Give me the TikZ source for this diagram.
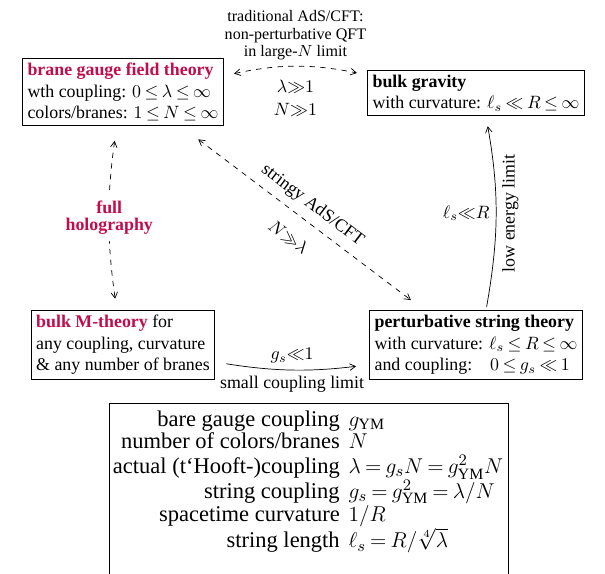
\documentclass[tikz,border=0pt]{standalone}
\usepackage{fontspec}
\setmainfont{Liberation Serif}
\usetikzlibrary{arrows}
\definecolor{holored}{rgb}{0.76,0.05,0.30}
\thickmuskip=3.5mu plus 2mu

\begin{document}
\begin{tikzpicture}[x=0.56pt, y=-0.56pt,
    theory/.style={rectangle, draw, align=left, inner sep=2.6pt, line width=0.6pt},
    dual/.style={<->, >=angle 60, dashed},
    limit/.style={->, >=angle 60},
    lbl/.style={align=center}
]
    \useasboundingbox (0,0) rectangle (605,573);

    % Nodes
    \node[theory] (gauge) at (123,92) {\textcolor{holored}{\textbf{brane gauge field theory}}\\ wth coupling: $0\le\lambda\le\infty$\\ colors/branes: $1\le N\le\infty$};
    \node[theory] (gravity) at (476,93) {\textbf{bulk gravity}\\ with curvature: $\ell_s\ll R\le\infty$};
    \node[theory] (mtheory) at (123,345) {\textcolor{holored}{\textbf{bulk M-theory}} for\\ any coupling, curvature\\ \& any number of branes};
    \node[theory] (string) at (476,345) {\textbf{perturbative string theory}\\ with curvature: $\ell_s\le R\le\infty$\\ and coupling:\quad $0\le g_s\ll1$};
    \node[theory, anchor=north, inner sep=2pt] (legend) at (309,403) {\fontsize{12.6}{12.5}\selectfont
        \begin{tabular}{@{}r@{\hspace{5pt}}l@{\hspace{1pt}}}
            \noalign{\vskip 2pt}
            bare gauge coupling & $g_{\mathrm{YM}}$\\
            number of colors/branes & $N$\\
            actual (t`Hooft-)coupling & $\lambda=g_sN=g_{\mathrm{YM}}^2N$\\
            string coupling & $g_s=g_{\mathrm{YM}}^2=\lambda/N$\\
            spacetime curvature & $1/R$\\
            string length & $\ell_s=R/\sqrt[4]{\lambda}$\\[24pt]
        \end{tabular}};

    % Relations
    \draw[dual, shorten <=6pt, shorten >=6pt] ([yshift=9pt]gauge.east) to[bend left=12]
        node[midway, above=0pt, lbl, font=\fontsize{9}{9.8}\selectfont] {traditional AdS/CFT:\\ non-perturbative QFT\\ in large-$N$ limit}
        node[midway, below=4pt, lbl] {$\lambda{\gg}1$\\[1pt] $N{\gg}1$} ([yshift=10pt]gravity.west);
    \draw[dual, shorten <=8.4pt, shorten >=6.5pt] ([xshift=-3.5pt]gauge.south) to[bend right=8]
        node[midway, fill=white, lbl, text=holored, font=\bfseries\fontsize{10}{9.5}\selectfont] {full\\ holography} ([xshift=-3.5pt]mtheory.north);
    \draw[dual, shorten <=12.3pt, shorten >=9.5pt] ([xshift=-24pt]gauge.south east) --
        node[midway, sloped, above=1pt] {stringy AdS/CFT}
        node[midway, sloped, below=6pt] {$N{\gg}\lambda$} ([xshift=30.8pt]string.north west);
    \draw[limit, shorten <=2pt, shorten >=5.6pt] ([xshift=5.6pt]string.north) to[bend right=10]
        node[midway, left] {$\ell_s{\ll}R$}
        node[midway, sloped, below] {low energy limit} ([xshift=5.6pt]gravity.south);
    \draw[limit, shorten <=6.5pt, shorten >=7.5pt] ([yshift=-9.5pt]mtheory.east) to[bend right=8]
        node[midway, above] {$g_s{\ll}1$}
        node[midway, below] {small coupling limit} ([yshift=-11pt]string.west);
\end{tikzpicture}
\end{document}
